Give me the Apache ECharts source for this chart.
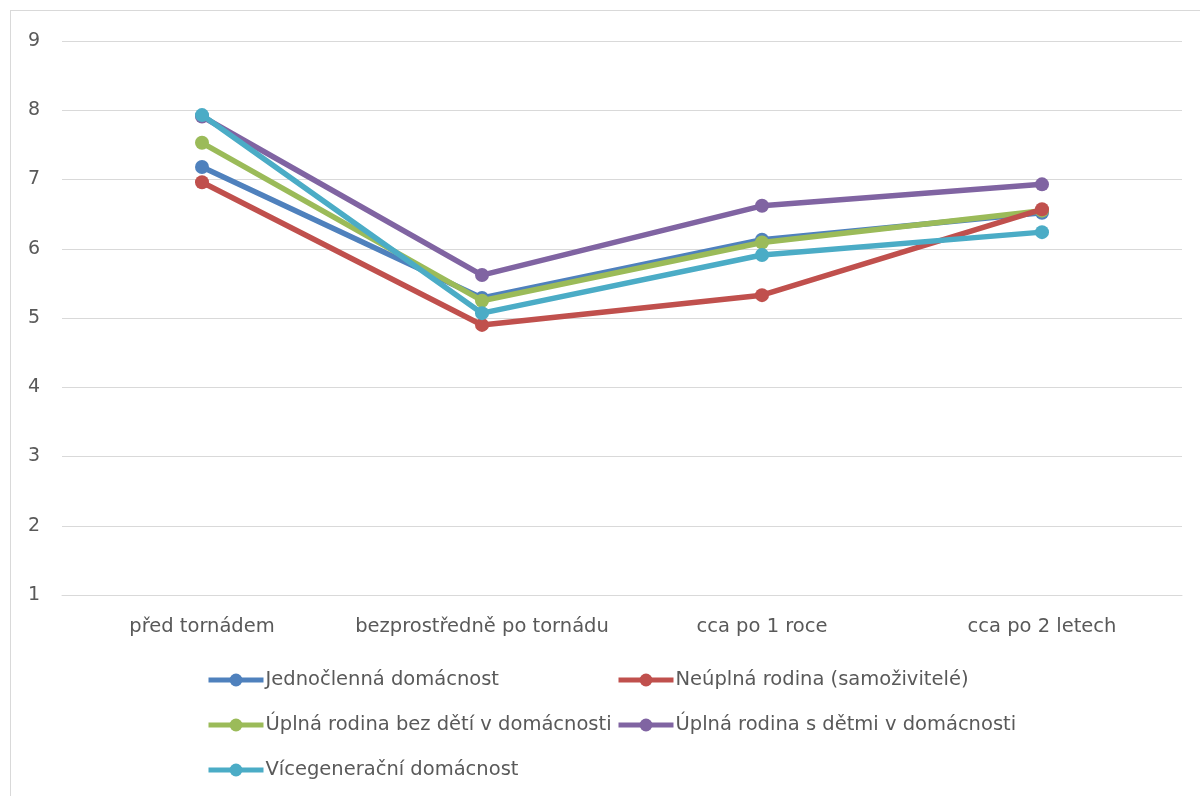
<!DOCTYPE html>
<html>
<head>
<meta charset="utf-8">
<script src="https://cdn.jsdelivr.net/npm/echarts@6/dist/echarts.min.js"></script>
<style>
html,body{margin:0;padding:0;background:#fff;}
#frame{position:absolute;left:10px;top:10px;width:1200px;height:800px;border:1px solid #d9d9d9;box-sizing:border-box;}
#chart{position:absolute;left:0;top:0;width:1200px;height:796px;}
</style>
</head>
<body>
<div id="frame"></div>
<div id="chart"></div>
<script>
const categories = ['před tornádem', 'bezprostředně po tornádu', 'cca po 1 roce', 'cca po 2 letech'];
const seriesNames = ['Jednočlenná domácnost', 'Neúplná rodina (samoživitelé)', 'Úplná rodina bez dětí v domácnosti', 'Úplná rodina s dětmi v domácnosti', 'Vícegenerační domácnost'];
const jednoclenna = [7.18, 5.29, 6.13, 6.52];
const neuplna = [6.96, 4.90, 5.33, 6.57];
const uplnaBez = [7.53, 5.25, 6.09, 6.55];
const uplnaS = [7.91, 5.62, 6.62, 6.93];
const vicegeneracni = [7.93, 5.07, 5.91, 6.24];
const yTicks = [1, 2, 3, 4, 5, 6, 7, 8, 9];

const colors = ['#4F81BD', '#C0504D', '#9BBB59', '#8064A2', '#4BACC6'];
const dataList = [jednoclenna, neuplna, uplnaBez, uplnaS, vicegeneracni];
const order = [3, 0, 2, 1, 4]; // draw order (cyan on top)

const chart = echarts.init(document.getElementById('chart'));
const font = "'DejaVu Sans', 'Liberation Sans', sans-serif";
const series = order.map(i => ({
  name: seriesNames[i],
  type: 'line',
  data: dataList[i],
  color: colors[i],
  symbol: 'circle',
  symbolSize: 14,
  lineStyle: { width: 5.5, color: colors[i] },
  itemStyle: { color: colors[i] },
  z: 2 + order.indexOf(i),
  animation: false
}));

const legendCommon = {
  orient: 'vertical',
  padding: 0,
  itemWidth: 55,
  itemHeight: 16,
  itemGap: 25,
  lineStyle: { width: 5 },
  textStyle: { fontFamily: font, fontSize: 19.5, color: '#595959', padding: [0, 0, 0, -3] },
  selectedMode: false
};

chart.setOption({
  backgroundColor: 'transparent',
  animation: false,
  grid: { left: 62, right: 18, top: 41, bottom: 201 },
  xAxis: {
    type: 'category',
    data: categories,
    boundaryGap: true,
    axisLine: { show: true, lineStyle: { color: '#d9d9d9', width: 1 } },
    axisTick: { show: false },
    axisLabel: { interval: 0, fontFamily: font, fontSize: 19.5, color: '#595959', margin: 22 }
  },
  yAxis: {
    type: 'value',
    min: yTicks[0],
    max: yTicks[yTicks.length - 1],
    interval: 1,
    axisLine: { show: false },
    axisTick: { show: false },
    axisLabel: { fontFamily: font, fontSize: 19, color: '#595959', margin: 22 },
    splitLine: { lineStyle: { color: '#d9d9d9', width: 1 } }
  },
  legend: [
    Object.assign({}, legendCommon, { left: 206, top: 670, data: [seriesNames[0], seriesNames[2], seriesNames[4]] }),
    Object.assign({}, legendCommon, { left: 616, top: 670, data: [seriesNames[1], seriesNames[3]] })
  ],
  series: series
});
</script>
</body>
</html>
